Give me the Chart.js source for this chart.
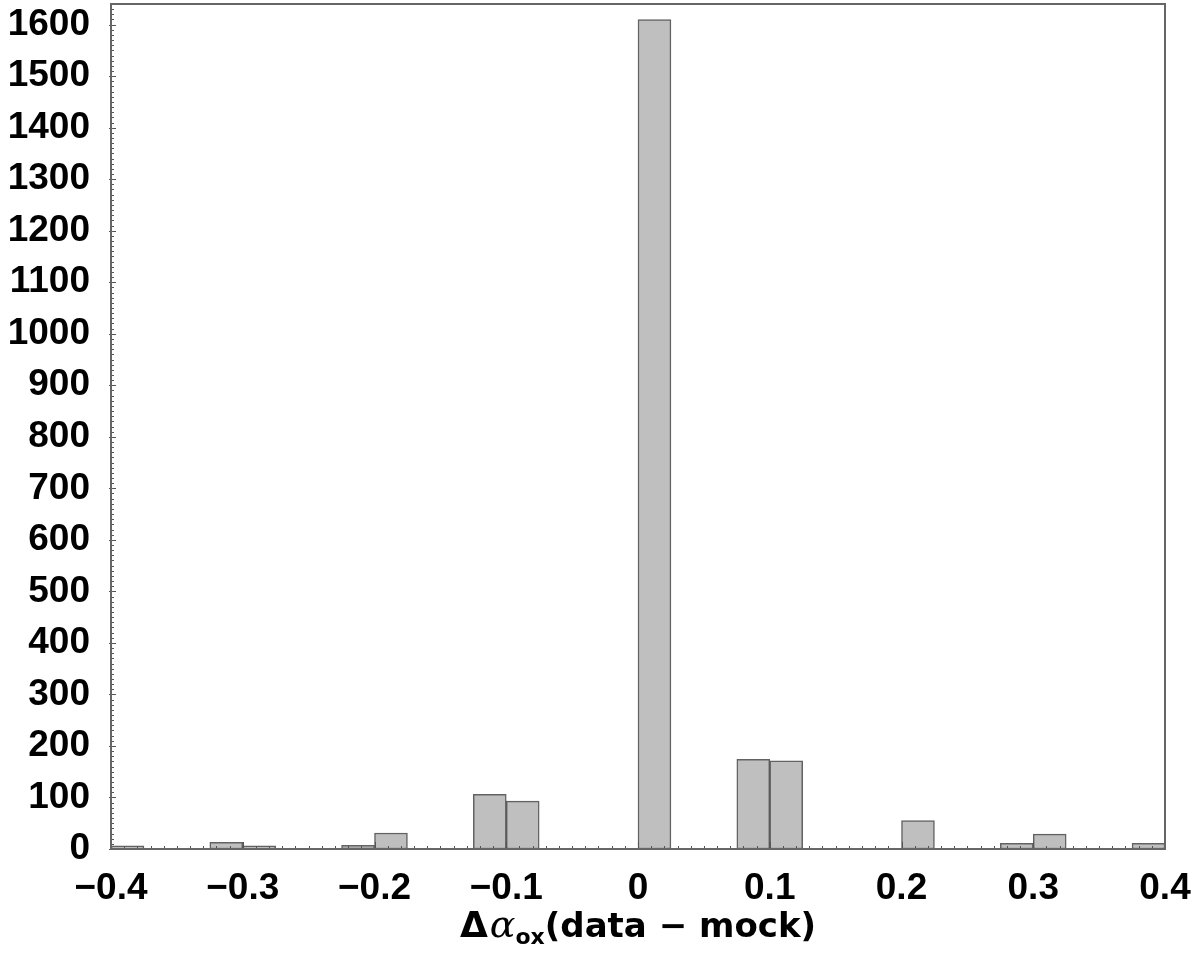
<!DOCTYPE html>
<html>
<head>
<meta charset="utf-8">
<script src="https://cdn.jsdelivr.net/npm/chart.js@4"></script>
<style>
  html, body { margin: 0; padding: 0; background: #fff; }
  #wrap { width: 1200px; height: 965px; position: relative; }
</style>
</head>
<body>
<div id="wrap"><canvas id="histChart"></canvas></div>
<script>
// bin centres (bin width 0.025, from -0.4 to 0.4)
const binCenters = [
  -0.3875, -0.3625, -0.3375, -0.3125, -0.2875, -0.2625, -0.2375, -0.2125,
  -0.1875, -0.1625, -0.1375, -0.1125, -0.0875, -0.0625, -0.0375, -0.0125,
   0.0125,  0.0375,  0.0625,  0.0875,  0.1125,  0.1375,  0.1625,  0.1875,
   0.2125,  0.2375,  0.2625,  0.2875,  0.3125,  0.3375,  0.3625,  0.3875
];
const counts = [
  6, 0, 0, 13, 6, 0, 0, 7,
  31, 0, 0, 106, 93, 0, 0, 0,
  1610, 0, 0, 174, 171, 0, 0, 0,
  55, 0, 0, 11, 29, 0, 0, 11
];
const xTicks = [-0.4, -0.3, -0.2, -0.1, 0, 0.1, 0.2, 0.3, 0.4];
const yTicks = [0, 100, 200, 300, 400, 500, 600, 700, 800, 900, 1000, 1100, 1200, 1300, 1400, 1500, 1600];

const tickFont = { family: "'Liberation Sans', Arial, sans-serif", size: 37, weight: "bold" };

function fmtX(v) {
  const r = Math.round(v * 10) / 10;
  if (r === 0) return "0";
  return (r < 0 ? "\u2212" : "") + Math.abs(r).toFixed(1);
}

// frame, inward ticks and the x-axis title
const framePlugin = {
  id: "frame",
  afterDatasetsDraw(chart) {
    const { ctx, chartArea: a, scales } = chart;
    const xs = scales.x, ys = scales.y;
    ctx.save();
    ctx.strokeStyle = "#555";
    ctx.lineWidth = 1;
    ctx.beginPath();
    // x minor ticks every 0.01, majors every 0.1
    for (let i = -40; i <= 40; i++) {
      const px = Math.round(xs.getPixelForValue(i / 100)) + 0.5;
      const len = (i % 10 === 0) ? 7 : 3;
      ctx.moveTo(px, a.bottom);
      ctx.lineTo(px, a.bottom - len);
    }
    // y minor ticks every 10, majors every 100
    for (let v = 0; v <= 1640; v += 10) {
      const py = Math.round(ys.getPixelForValue(v)) + 0.5;
      const maj = v % 100 === 0;
      ctx.moveTo(a.left - (maj ? 2 : 0), py);
      ctx.lineTo(a.left + (maj ? 5 : 3), py);
    }
    ctx.stroke();
    ctx.strokeStyle = "#666";
    ctx.lineWidth = 2;
    ctx.strokeRect(a.left, a.top, a.right - a.left, a.bottom - a.top);

    // axis title: Δα_ox(data − mock)
    const sans = "'DejaVu Sans', 'Liberation Sans', sans-serif";
    const parts = [
      { t: "\u0394", f: "bold 36px " + sans, dy: 0, gap: 2 },
      { t: "\u03B1", f: "italic 38px 'DejaVu Serif', 'Liberation Serif', serif", dy: 0, gap: 0 },
      { t: "ox", f: "bold 22px " + sans, dy: 7, gap: 0 },
      { t: "(data \u2212 mock)", f: "bold 34px " + sans, dy: 0, gap: 0 }
    ];
    let total = 0;
    parts.forEach(p => { ctx.font = p.f; p.w = ctx.measureText(p.t).width + p.gap; total += p.w; });
    let x = (a.left + a.right) / 2 - total / 2;
    const base = 937;
    ctx.fillStyle = "#000";
    ctx.textBaseline = "alphabetic";
    ctx.textAlign = "left";
    parts.forEach(p => { ctx.font = p.f; ctx.fillText(p.t, x, base + p.dy); x += p.w; });
    ctx.restore();
  }
};

document.addEventListener("DOMContentLoaded", () => {
  const ctx = document.getElementById("histChart").getContext("2d");

  new Chart(ctx, {
    type: "bar",
    data: {
      datasets: [{
        data: binCenters.map((c, i) => ({ x: c, y: counts[i] })),
        backgroundColor: "rgb(191, 191, 191)",
        borderColor: "rgba(70, 70, 70, 0.85)",
        borderWidth: 1.5,
        borderSkipped: false,
        barPercentage: 1,
        categoryPercentage: 1
      }]
    },
    options: {
      responsive: true,
      maintainAspectRatio: false,
      animation: false,
      layout: { padding: { top: 4, right: 35, left: 0, bottom: 0 } },
      plugins: { legend: { display: false }, tooltip: { enabled: false } },
      scales: {
        x: {
          type: "linear",
          min: -0.4,
          max: 0.4,
          offset: false,
          grid: { display: false, offset: false },
          border: { display: false },
          afterBuildTicks: s => { s.ticks = xTicks.map(v => ({ value: v })); },
          afterFit: s => { s.height = 116; s.paddingLeft = 0; s.paddingRight = 0; },
          ticks: {
            color: "#000",
            font: tickFont,
            padding: 10,
            maxRotation: 0,
            autoSkip: false,
            callback: v => fmtX(v)
          }
        },
        y: {
          min: 0,
          max: 1640,
          grid: { display: false },
          border: { display: false },
          afterBuildTicks: s => { s.ticks = yTicks.map(v => ({ value: v })); },
          afterFit: s => { s.width = 111; s.paddingTop = 0; s.paddingBottom = 0; },
          ticks: {
            color: "#000",
            font: tickFont,
            padding: 13,
            autoSkip: false,
            callback: v => String(v)
          }
        }
      }
    },
    plugins: [framePlugin]
  });
});
</script>
</body>
</html>
